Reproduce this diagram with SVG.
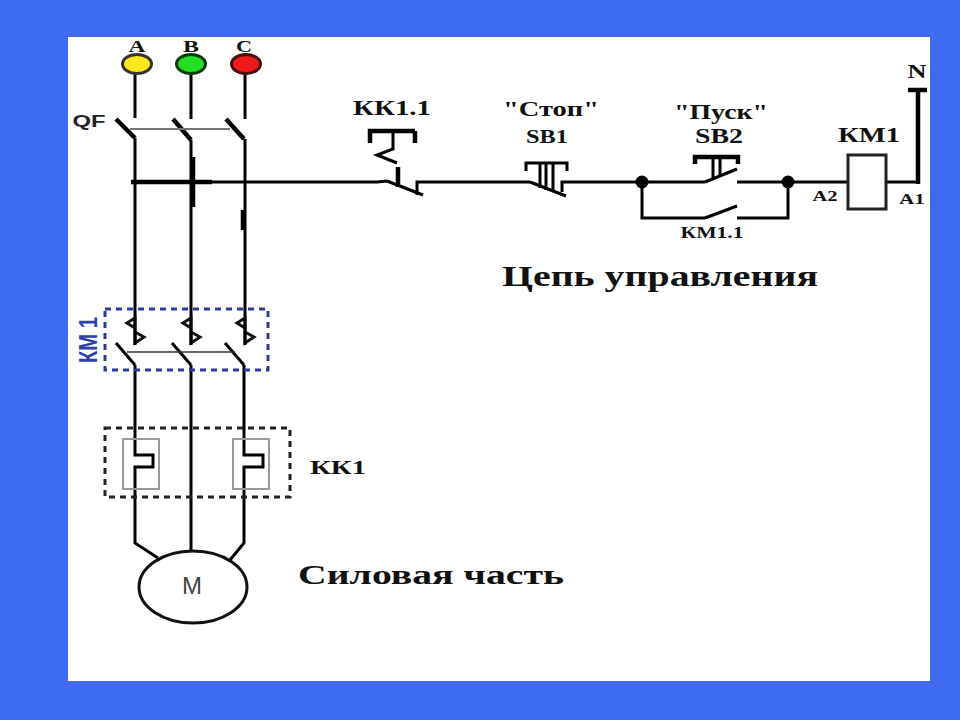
<svg xmlns="http://www.w3.org/2000/svg" width="960" height="720" viewBox="0 0 960 720">
<style>
.w{fill:none;stroke:#000;stroke-width:3;stroke-linejoin:miter}
.t{fill:none;stroke:#000;stroke-width:2.5}
.b{fill:none;stroke:#000;stroke-width:4.5}
.g{fill:none;stroke:#777;stroke-width:2}
.s{font-family:"Liberation Serif",serif;font-weight:bold;fill:#111;text-anchor:middle}
.a{font-family:"Liberation Sans",sans-serif;font-weight:bold;fill:#222;text-anchor:middle}
.n{fill:#000}
</style>
<rect width="960" height="720" fill="#3e6bf0"/>
<rect x="68" y="37" width="862" height="644" fill="#fff"/>
<g id="connectors">
<path class="w" d="M135 70V118M191 70V119M245 70V119"/>
<path class="w" d="M135 138V318M135 365V455H153V467H135V543L158 558"/>
<path class="w" d="M191 140V318M191 365V551"/>
<path class="w" d="M245 139V318M244 365V455H263V467H244V543L230 560"/>
<path class="b" d="M131 182H212"/>
<path class="w" d="M212 182H377L387 181"/>
<path class="w" d="M417 195V182H437H530"/>
<path class="w" d="M562 192V182H642H705"/>
<path class="w" d="M737 182H847"/>
<path class="w" d="M642 182V218H705M737 218H788V182"/>
<path class="w" d="M887 182H918"/>
<path class="b" d="M918 184V90M908 90H927"/>
<path class="b" d="M193 157V207M243 210V230"/>
</g>
<g id="lamp-a"><ellipse cx="137" cy="64" rx="14.5" ry="9.5" fill="#ffe61a" stroke="#333" stroke-width="3"/><text class="s" x="137" y="52" font-size="16" textLength="17" lengthAdjust="spacingAndGlyphs">A</text></g>
<g id="lamp-b"><ellipse cx="191" cy="64" rx="14.5" ry="9.5" fill="#22e022" stroke="#0a3a0a" stroke-width="3"/><text class="s" x="191" y="52" font-size="16" textLength="16" lengthAdjust="spacingAndGlyphs">B</text></g>
<g id="lamp-c"><ellipse cx="246" cy="64" rx="14.5" ry="9.5" fill="#f01a1a" stroke="#441111" stroke-width="3"/><text class="s" x="244" y="52" font-size="16" textLength="16" lengthAdjust="spacingAndGlyphs">C</text></g>
<g id="qf">
<path class="b" d="M116 119L135 138M173 119L191 140M226 119L244 139"/>
<path class="g" d="M130 129H230"/>
<text class="a" x="89" y="127" font-size="16" textLength="33" lengthAdjust="spacingAndGlyphs">QF</text>
</g>
<g id="kk1-1">
<path class="w" d="M387 181L423 195"/>
<path class="b" d="M370 143V131H415M415 131V143"/>
<path class="w" d="M393 131V149L377 155L397 163"/>
<path class="b" d="M398 167V187"/>
<text class="s" x="392" y="115" font-size="20" textLength="78" lengthAdjust="spacingAndGlyphs">КК1.1</text>
</g>
<g id="sb1">
<path class="w" d="M530 182L566 196"/>
<path class="w" d="M526 171V163H567V171M540 163V188M546 163V190M553 163V192"/>
<text class="s" x="551" y="116" font-size="21" textLength="96" lengthAdjust="spacingAndGlyphs">"Стоп"</text>
<text class="s" x="547" y="143" font-size="19" textLength="42" lengthAdjust="spacingAndGlyphs">SB1</text>
</g>
<g id="sb2">
<path class="w" d="M705 182L737 169"/>
<path class="b" d="M695 164V157H738V164"/>
<path class="w" d="M713 157V178M720 157V176"/>
<text class="s" x="721" y="119" font-size="21" textLength="94" lengthAdjust="spacingAndGlyphs">"Пуск"</text>
<text class="s" x="719" y="143" font-size="20" textLength="48" lengthAdjust="spacingAndGlyphs">SB2</text>
</g>
<g id="km1-1">
<path class="w" d="M705 218L737 206"/>
<text class="s" x="712" y="238" font-size="17" textLength="63" lengthAdjust="spacingAndGlyphs">КМ1.1</text>
</g>
<g id="node-1"><circle class="n" cx="642" cy="182" r="6.5"/></g>
<g id="node-2"><circle class="n" cx="788" cy="182" r="6.5"/></g>
<g id="km1-coil">
<rect x="848" y="155" width="38" height="54" fill="#fff" stroke="#222" stroke-width="3"/>
<text class="s" x="869" y="142" font-size="21" textLength="62" lengthAdjust="spacingAndGlyphs">КМ1</text>
<text class="s" x="825" y="201" font-size="15" textLength="25" lengthAdjust="spacingAndGlyphs">A2</text>
<text class="s" x="912" y="204" font-size="15" textLength="26" lengthAdjust="spacingAndGlyphs">A1</text>
</g>
<g id="n-label"><text class="s" x="917" y="78" font-size="19" textLength="19" lengthAdjust="spacingAndGlyphs">N</text></g>
<g id="km1-group">
<rect x="105" y="309" width="163" height="61" fill="none" stroke="#2a3a98" stroke-width="3" stroke-dasharray="6 5"/>
<g fill="#fff" stroke="#111" stroke-width="3">
<path d="M135 318L127 323L135 328ZM135 332L144 337L135 343Z"/>
<path d="M191 318L183 323L191 328ZM191 332L200 337L191 343Z"/>
<path d="M245 318L237 323L245 328ZM245 332L254 337L245 343Z"/>
</g>
<path class="w" d="M135 318V345M191 318V345M245 318V345"/>
<path class="w" d="M116 343L135 365M172 343L191 365M225 343L244 365"/>
<path fill="none" stroke="#333" stroke-width="1.5" d="M127 352H235"/>
<text x="97" y="340" transform="rotate(-90 97 340)" font-family="Liberation Sans, sans-serif" font-weight="bold" font-size="26" fill="#2a3fa8" text-anchor="middle" textLength="46" lengthAdjust="spacingAndGlyphs">КМ 1</text>
</g>
<g id="kk1-group">
<rect x="105" y="428" width="185" height="69" fill="none" stroke="#222" stroke-width="3" stroke-dasharray="6 5"/>
<rect x="123" y="439" width="36" height="50" fill="none" stroke="#999" stroke-width="2"/>
<rect x="233" y="439" width="36" height="50" fill="none" stroke="#999" stroke-width="2"/>
<text class="s" x="338" y="474" font-size="19" textLength="56" lengthAdjust="spacingAndGlyphs">КК1</text>
</g>
<g id="motor">
<ellipse cx="193" cy="587" rx="54" ry="36" fill="#fff" stroke="#111" stroke-width="3"/>
<text x="192" y="594" font-family="Liberation Sans, sans-serif" font-size="24" fill="#444" text-anchor="middle">М</text>
</g>
<g id="captions">
<text class="s" x="660" y="286" font-size="29" textLength="316" lengthAdjust="spacingAndGlyphs">Цепь управления</text>
<text class="s" x="431" y="584" font-size="28" textLength="266" lengthAdjust="spacingAndGlyphs">Силовая часть</text>
</g>
</svg>
